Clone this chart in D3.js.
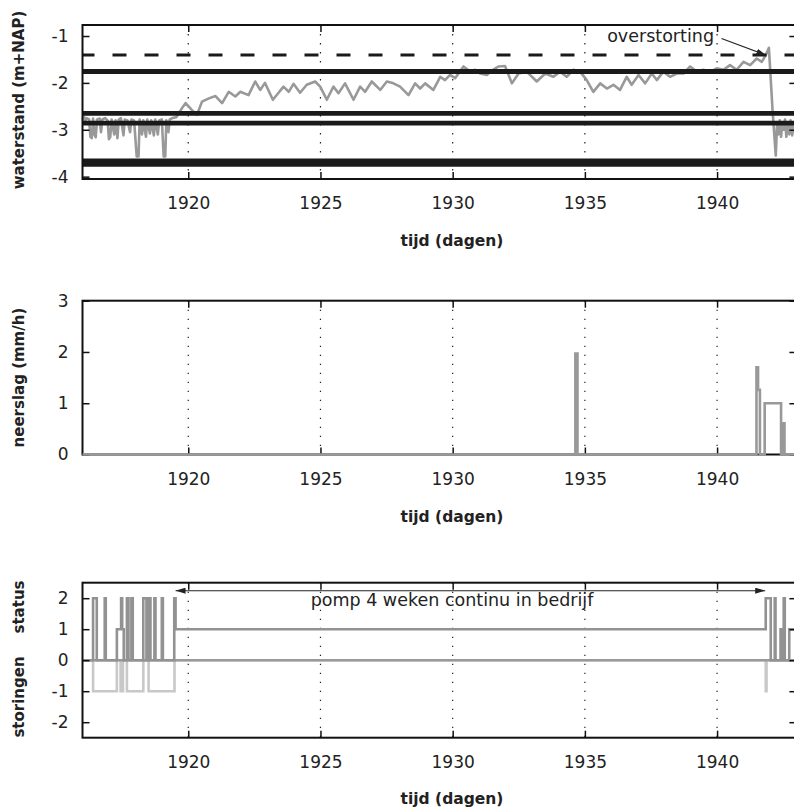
<!DOCTYPE html>
<html><head><meta charset="utf-8">
<script src="https://cdn.jsdelivr.net/npm/d3@7/dist/d3.min.js"></script>
<style>body{margin:0;background:#fff}svg{display:block}text{font-family:"DejaVu Sans",sans-serif}</style>
</head><body><svg id="c" width="794" height="811"></svg>
<script>
// ---------------- data ----------------
const xDomain = [1916, 1943];
const xTicks = [1920, 1925, 1930, 1935, 1940];
const waterDomain = [-4.05, -0.765];
const waterTicks = [-1, -2, -3, -4];
const rainDomain = [0, 3];
const rainTicks = [0, 1, 2, 3];
const statusDomain = [-2.5, 2.5];
const statusTicks = [-2, -1, 0, 1, 2];

const waterT = [1916.00,1916.05,1916.10,1916.15,1916.25,1916.30,1916.35,1916.40,1916.45,1916.50,1916.55,1916.65,1916.70,1916.75,1916.85,1916.95,1917.00,1917.05,1917.10,1917.20,1917.25,1917.32,1917.37,1917.45,1917.55,1917.60,1917.70,1917.80,1917.85,1917.95,1918.05,1918.12,1918.16,1918.25,1918.30,1918.40,1918.45,1918.55,1918.60,1918.70,1918.75,1918.85,1918.90,1919.00,1919.07,1919.13,1919.17,1919.25,1919.30,1919.40,1919.55,
1919.76,1919.90,1920.14,1920.33,1920.52,1920.78,1921.03,1921.28,1921.53,1921.78,1921.97,1922.28,1922.53,1922.72,1922.90,1923.20,1923.40,1923.60,1923.80,1923.98,1924.23,1924.48,1924.80,1924.99,1925.24,1925.49,1925.68,1925.93,1926.25,1926.50,1926.69,1926.94,1927.26,1927.51,1927.76,1928.01,1928.33,1928.58,1928.77,1928.96,1929.27,1929.53,1929.71,1929.90,1930.09,1930.41,1930.66,1930.85,1931.04,1931.29,1931.48,1931.73,1931.98,1932.24,1932.49,1932.80,1933.18,1933.50,1933.81,1934.06,1934.31,1934.57,1934.82,1935.07,1935.32,1935.58,1935.83,1936.08,1936.33,1936.58,1936.77,1937.03,1937.28,1937.53,1937.72,1937.97,1938.22,1938.48,1938.73,1938.98,1939.23,1939.48,1939.74,1939.99,1940.24,1940.49,1940.74,1941.00,1941.25,1941.50,1941.69,1941.85,1941.96,1942.10,1942.22,1942.27,1942.32,1942.37,1942.42,1942.47,1942.52,1942.57,1942.62,1942.68,1942.73,1942.78,1942.84,1942.90];
const waterV = [-2.78,-2.72,-2.84,-2.75,-2.78,-3.15,-3.18,-2.76,-3.10,-3.16,-2.78,-2.76,-3.05,-2.78,-2.75,-2.80,-3.20,-3.15,-2.78,-3.10,-2.80,-3.18,-2.78,-2.75,-3.12,-2.78,-2.80,-3.05,-2.78,-2.80,-3.57,-3.57,-2.78,-3.10,-2.80,-3.15,-2.78,-3.08,-2.80,-3.12,-2.78,-3.10,-2.80,-2.78,-3.57,-3.57,-2.80,-3.05,-2.78,-2.75,-2.73,
-2.54,-2.43,-2.58,-2.68,-2.40,-2.33,-2.28,-2.43,-2.19,-2.29,-2.19,-2.26,-1.97,-2.15,-2.00,-2.36,-2.22,-2.08,-2.19,-2.02,-2.21,-2.04,-1.97,-2.08,-2.36,-2.08,-2.22,-2.01,-2.36,-2.08,-2.19,-1.97,-2.15,-1.97,-2.01,-2.08,-2.26,-2.01,-2.12,-2.01,-2.15,-1.87,-1.94,-1.83,-1.90,-1.65,-1.76,-1.72,-1.80,-1.83,-1.74,-1.65,-1.64,-2.01,-1.80,-1.76,-1.97,-1.80,-1.87,-1.76,-1.87,-1.72,-1.76,-1.94,-2.19,-2.01,-2.12,-2.04,-2.15,-1.87,-2.04,-1.83,-2.01,-1.80,-1.94,-1.76,-1.87,-1.80,-1.80,-1.65,-1.76,-1.72,-1.76,-1.69,-1.72,-1.62,-1.72,-1.55,-1.62,-1.48,-1.55,-1.40,-1.25,-2.60,-3.55,-2.85,-3.10,-2.80,-3.15,-2.85,-3.00,-2.78,-3.15,-2.85,-3.10,-2.80,-3.12,-2.90];

const refLevels = [-1.756, -2.65, -2.86, -3.70];
const overflowLevel = -1.405;

const rainT = [1916, 1934.64, 1934.72, 1941.49, 1941.55, 1941.62, 1941.80, 1942.42, 1942.51, 1942.55, 1943];
const rainV = [0, 1.97, 0, 1.70, 1.26, 0, 1.0, 0, 0.61, 0, 0];

const statusT = [1916.0,1916.40,1916.54,1916.84,1916.88,1917.30,1917.46,1917.50,1917.56,1917.68,1917.74,1917.85,1917.90,1918.30,1918.42,1918.50,1918.57,1918.72,1918.76,1919.00,1919.04,1919.47,1919.52,1941.84,1942.03,1942.18,1942.21,1942.40,1942.45,1942.52,1942.56,1942.73,1943];
const statusV = [0,2,0,2,0,1,2,1,0,2,0,2,0,2,0,2,0,2,0,2,0,2,1,2,0,2,0,1,0,2,0,1,1];

const storT = [1916.0,1916.40,1917.30,1917.44,1917.53,1917.68,1918.30,1918.50,1919.48,1941.84,1941.87,1943];
const storV = [0,-1,0,-1,0,-1,0,-1,0,-1,0,0];

// ---------------- layout / style ----------------
const L = 82.5, R = 796.4;
const P = [{top:25, bottom:179}, {top:300.7, bottom:454.5}, {top:582.7, bottom:737.7}];
const FONT = '"DejaVu Sans", sans-serif';
const svg = d3.select('#c');
const x = d3.scaleLinear(xDomain, [L, R]);

const defs = svg.append('defs');
defs.append('marker').attr('id','ah').attr('viewBox','0 0 10 6').attr('refX',10).attr('refY',3)
  .attr('markerWidth',10).attr('markerHeight',6).attr('markerUnits','userSpaceOnUse').attr('orient','auto-start-reverse')
  .append('path').attr('d','M0,0L10,3L0,6Z').attr('fill','#222');

function panel(p, domain){
  const y = d3.scaleLinear(domain, [p.bottom, p.top]);
  const g = svg.append('g');
  g.append('g').selectAll('line').data(xTicks).join('line')
    .attr('x1', d=>x(d)).attr('x2', d=>x(d)).attr('y1', p.top).attr('y2', p.bottom)
    .attr('stroke','#222').attr('stroke-width',1.2).attr('stroke-dasharray','1.4,7.6');
  return {g, y};
}
function axes(g, p, y, ticks){
  const style = a => { a.select('.domain').remove();
    a.attr('font-family', FONT).attr('font-size', 17);
    a.selectAll('line').attr('stroke','#111').attr('stroke-width',1.5);
    a.selectAll('text').attr('fill','#222'); };
  g.append('g').attr('transform',`translate(0,${p.bottom})`)
    .call(d3.axisBottom(x).tickValues(xTicks).tickSize(-7).tickPadding(18).tickFormat(d3.format('d'))).call(style);
  g.append('g').attr('transform',`translate(0,${p.top})`)
    .call(d3.axisTop(x).tickValues(xTicks).tickSize(-7).tickFormat('')).call(style);
  g.append('g').attr('transform',`translate(${L},0)`)
    .call(d3.axisLeft(y).tickValues(ticks).tickSize(-7).tickPadding(14).tickFormat(d=>String(d))).call(style);
  g.append('g').attr('transform',`translate(${R},0)`)
    .call(d3.axisRight(y).tickValues(ticks).tickSize(-7).tickFormat('')).call(style);
}
function frame(g, p){
  g.append('rect').attr('x',L).attr('y',p.top).attr('width',R-L).attr('height',p.bottom-p.top)
    .attr('fill','none').attr('stroke','#111').attr('stroke-width',2);
}
function xTitle(yb){
  svg.append('text').attr('x',452).attr('y',yb).attr('text-anchor','middle')
    .attr('font-size',15.5).attr('font-weight','bold').attr('fill','#222').text('tijd (dagen)');
}
function yTitle(cy, txt){
  svg.append('text').attr('transform',`translate(24,${cy}) rotate(-90)`).attr('text-anchor','middle')
    .attr('font-size',15).attr('font-weight','bold').attr('fill','#222').text(txt);
}

// ---------- panel 1: waterstand ----------
{
  const p = P[0];
  const {g, y} = panel(p, waterDomain);
  const line = d3.line().x(i=>x(waterT[i])).y(i=>y(waterV[i]));
  g.append('path').attr('d', line(d3.range(waterT.length))).attr('fill','none')
    .attr('stroke','#999').attr('stroke-width',2.6).attr('stroke-linejoin','round');
  const widths = [5, 4.6, 4.8, 8.2];
  g.selectAll('.ref').data(refLevels).join('line').attr('x1',L).attr('x2',R)
    .attr('y1',d=>y(d)).attr('y2',d=>y(d)).attr('stroke','#1a1a1a').attr('stroke-width',(d,i)=>widths[i]);
  g.append('line').attr('x1',L).attr('x2',R).attr('y1',y(overflowLevel)).attr('y2',y(overflowLevel))
    .attr('stroke','#1a1a1a').attr('stroke-width',3).attr('stroke-dasharray','14,18').attr('stroke-dashoffset',2);
  axes(g, p, y, waterTicks);
  frame(g, p);
  svg.append('text').attr('x',714).attr('y',42).attr('text-anchor','end').attr('font-size',17.5).attr('fill','#222').text('overstorting');
  svg.append('line').attr('x1',721.5).attr('y1',38.5).attr('x2',x(1941.86)).attr('y2',y(-1.41))
    .attr('stroke','#222').attr('stroke-width',1.1).attr('marker-end','url(#ah)');
  xTitle(246);
  yTitle(100, 'waterstand (m+NAP)');
}

// ---------- panel 2: neerslag ----------
{
  const p = P[1];
  const {g, y} = panel(p, rainDomain);
  axes(g, p, y, rainTicks);
  frame(g, p);
  const line = d3.line().curve(d3.curveStepAfter).x(i=>x(rainT[i])).y(i=>y(rainV[i]));
  g.append('path').attr('d', line(d3.range(rainT.length))).attr('fill','none')
    .attr('stroke','#999').attr('stroke-width',2.6);
  xTitle(522);
  yTitle(377.6, 'neerslag (mm/h)');
}

// ---------- panel 3: status / storingen ----------
{
  const p = P[2];
  const {g, y} = panel(p, statusDomain);
  const lineS = d3.line().curve(d3.curveStepAfter).x(i=>x(storT[i])).y(i=>y(storV[i]));
  g.append('path').attr('d', lineS(d3.range(storT.length))).attr('fill','none')
    .attr('stroke','#c8c8c8').attr('stroke-width',2.6);
  g.append('line').attr('x1',L).attr('x2',R).attr('y1',y(0)).attr('y2',y(0))
    .attr('stroke','#999').attr('stroke-width',2.6);
  const line = d3.line().curve(d3.curveStepAfter).x(i=>x(statusT[i])).y(i=>y(statusV[i]));
  g.append('path').attr('d', line(d3.range(statusT.length))).attr('fill','none')
    .attr('stroke','#929292').attr('stroke-width',2.6);
  axes(g, p, y, statusTicks);
  frame(g, p);
  svg.append('line').attr('x1',x(1919.52)).attr('x2',x(1941.82)).attr('y1',590.7).attr('y2',590.7)
    .attr('stroke','#222').attr('stroke-width',1.1).attr('marker-start','url(#ah)').attr('marker-end','url(#ah)');
  svg.append('text').attr('x',452).attr('y',606).attr('text-anchor','middle').attr('font-size',17.5).attr('fill','#222')
    .text('pomp 4 weken continu in bedrijf');
  xTitle(804);
  yTitle(607, 'status');
  yTitle(697, 'storingen');
}
</script></body></html>
